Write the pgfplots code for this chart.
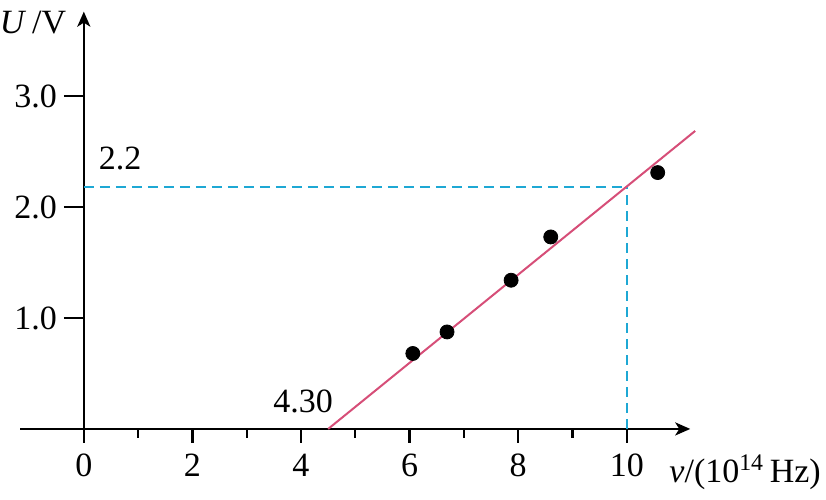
\documentclass[border=0pt]{standalone}
\usepackage{fontspec}
\setmainfont{Liberation Serif}
\usepackage{pgfplots}
\pgfplotsset{compat=1.18}
\usetikzlibrary{arrows.meta}

\definecolor{fitred}{RGB}{214,78,120}
\definecolor{guidecyan}{RGB}{30,168,212}

\begin{document}
\begin{tikzpicture}
\begin{axis}[
	x=27.15pt, y=55.5pt,
	xmin=-1.17, xmax=11.17,
	ymin=0, ymax=3.76,
	axis lines=middle,
	axis line style={line width=1.25pt, -{Stealth[length=7.5pt,width=6.5pt,inset=2pt]}},
	hide obscured x ticks=false,
	hide obscured y ticks=false,
	clip=false,
	tick align=outside,
	tick style={black, line width=1.2pt},
	major tick length=7pt,
	minor tick length=4.5pt,
	xtick={0,2,4,6,8,10},
	minor x tick num=1,
	ytick=\empty,
	extra y ticks={1,2,3},
	extra y tick labels={1.0,2.0,3.0},
	extra y tick style={major tick length=10pt},
	/pgf/number format/assume math mode=true,
	ticklabel style={font=\fontsize{17}{20}\selectfont},
	xticklabel style={yshift=-2pt},
]
	% dashed guide lines at x = 10
	\addplot[guidecyan, line width=1.1pt, dash pattern=on 5pt off 3pt] coordinates {(0,2.18) (10,2.18)};
	\addplot[guidecyan, line width=1.1pt, dash pattern=on 5pt off 3pt] coordinates {(10,0) (10,2.18)};
	% fitted line
	\addplot[fitred, line width=1pt] coordinates {(4.50,0) (11.26,2.685)};
	% measured points
	\addplot[only marks, mark=*, mark size=3.5pt, black] coordinates {
		(6.06,0.68) (6.69,0.874) (7.87,1.34) (8.60,1.73) (10.57,2.31)
	};

	\node[font=\fontsize{17}{20}\selectfont] at (axis cs:0.67,2.44) {2.2};
	\node[font=\fontsize{17}{20}\selectfont] at (axis cs:4.04,0.25) {4.30};
	\node[font=\fontsize{17}{20}\selectfont, anchor=east, inner sep=0pt] at (axis cs:-0.32,3.66) {\textit{U}\,/V};
	\node[font=\fontsize{17}{20}\selectfont, anchor=base west, inner sep=0pt] at (axis cs:10.78,-0.486) {\textit{v}/(10\textsuperscript{14}\,Hz)};

	\path (axis cs:-1.538,-0.64) rectangle (axis cs:13.67,3.865);
\end{axis}
\end{tikzpicture}
\end{document}
